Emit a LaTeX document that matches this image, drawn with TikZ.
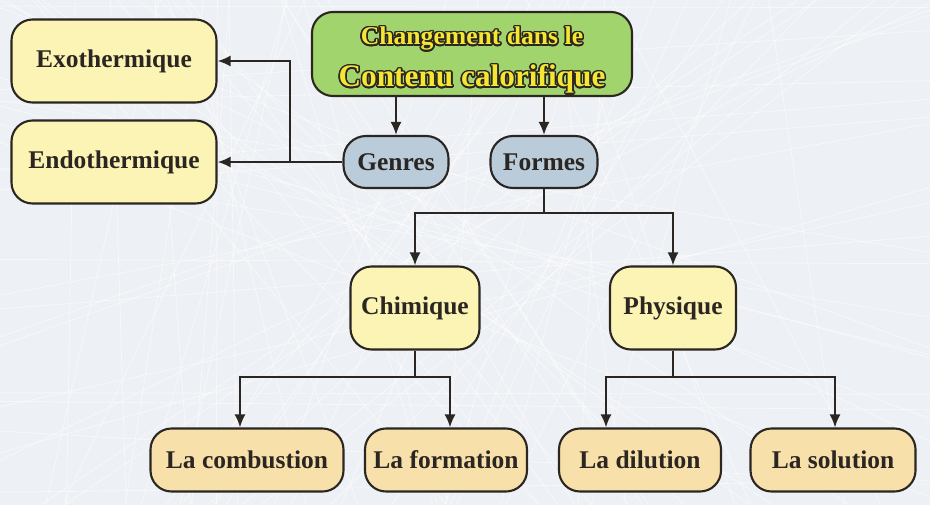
\documentclass[tikz,border=0pt]{standalone}
\usepackage{fontspec}
\setmainfont{Liberation Serif}
\usepackage{contour}
\contourlength{.9pt}
\usetikzlibrary{arrows.meta,positioning}
\definecolor{Ink}{HTML}{2B2622}
\definecolor{Paper}{HTML}{EDF0F4}
\definecolor{Leaf}{HTML}{A2D46E}
\definecolor{Cream}{HTML}{FCF4B4}
\definecolor{Slate}{HTML}{BACBDA}
\definecolor{Sand}{HTML}{F7E0A9}
\definecolor{Gold}{HTML}{F4E632}
\newcommand{\rimmed}[1]{{\color{Gold}\contour{Ink}{#1}}}
\tikzset{>=Latex,
 every node/.style={font=\bfseries\fontsize{14.5}{17}\selectfont,text=Ink},
 arr/.style={-{Latex[length=2.6mm,width=2.2mm]},line width=1.1pt,draw=Ink},
 link/.style={line width=1.1pt,draw=Ink},
 box/.style={draw=Ink,line width=1.2pt,rounded corners=.42cm,align=center,inner sep=0pt},
 head/.style={box,fill=Leaf,minimum width=6.4cm,minimum height=1.68cm},
 kind/.style={box,fill=Cream,minimum width=4.1cm,minimum height=1.66cm},
 pill/.style={box,fill=Slate,minimum height=1.04cm,rounded corners=.45cm},
 form/.style={box,fill=Cream,minimum height=1.66cm},
 leaf/.style={box,fill=Sand,minimum width=3.24cm,minimum height=1.26cm},
 }
\begin{document}
\begin{tikzpicture}
 \fill[Paper](0,0)rectangle(18.6,-10.1);
 \useasboundingbox(0,0)rectangle(18.6,-10.1);
 % scratched paper
 \pgfmathsetseed{11}
 \foreach \i in {1,...,55}{
  \pgfmathsetmacro{\xa}{18.6*rnd}\pgfmathsetmacro{\xb}{18.6*rnd}
  \draw[white,opacity=.5,line width=.5pt](\xa,0)--(\xb,-10.1);}
 \foreach \i in {1,...,25}{
  \pgfmathsetmacro{\ya}{-10.1*rnd}\pgfmathsetmacro{\yb}{-10.1*rnd}
  \draw[white,opacity=.5,line width=.5pt](0,\ya)--(18.6,\yb);}
 % boxes
 \node[head](top)at(9.44,-1.08){\fontsize{14.6}{16}\selectfont\rule{0pt}{18pt}\rimmed{Changement dans le}\\[7pt]
  \fontsize{17.8}{20}\selectfont\rimmed{Contenu calorifique}};
 \node[kind](exo)at(2.28,-1.22){Exothermique};
 \node[kind](endo)at(2.28,-3.24){Endothermique};
 \node[pill,minimum width=2.1cm](genres)at(7.92,-3.24){Genres};
 \node[pill,minimum width=2.14cm](formes)at(10.88,-3.24){Formes};
 \node[form,minimum width=2.58cm](chim)at(8.3,-6.16){Chimique};
 \node[form,minimum width=2.52cm](phys)at(13.46,-6.16){Physique};
 \node[leaf,minimum width=3.86cm](comb)at(4.94,-9.2){La combustion};
 \node[leaf](forma)at(8.92,-9.2){La formation};
 \node[leaf](dil)at(12.8,-9.2){La dilution};
 \node[leaf,minimum width=3.3cm](sol)at(16.66,-9.2){La solution};
 % connectors
 \draw[arr](genres|-top.south)--(genres.north);
 \draw[arr](formes|-top.south)--(formes.north);
 \draw[arr](genres.west)--(endo.east);
 \coordinate(split)at(5.8,-3.24);
 \draw[arr](split)|-(exo.east);
 \draw[link](formes.south)--++(0,-.48)coordinate(fk);
 \draw[arr](fk)-|(chim.north);\draw[arr](fk)-|(phys.north);
 \draw[link](chim.south)--++(0,-.53)coordinate(ck);
 \draw[arr](ck)-|([xshift=-1.4mm]comb.north);\draw[arr](ck)-|([xshift=.8mm]forma.north);
 \draw[link](phys.south)--++(0,-.53)coordinate(pk);
 \draw[arr](pk)-|([xshift=-6.8mm]dil.north);\draw[arr](pk)-|([xshift=.4mm]sol.north);
\end{tikzpicture}
\end{document}
